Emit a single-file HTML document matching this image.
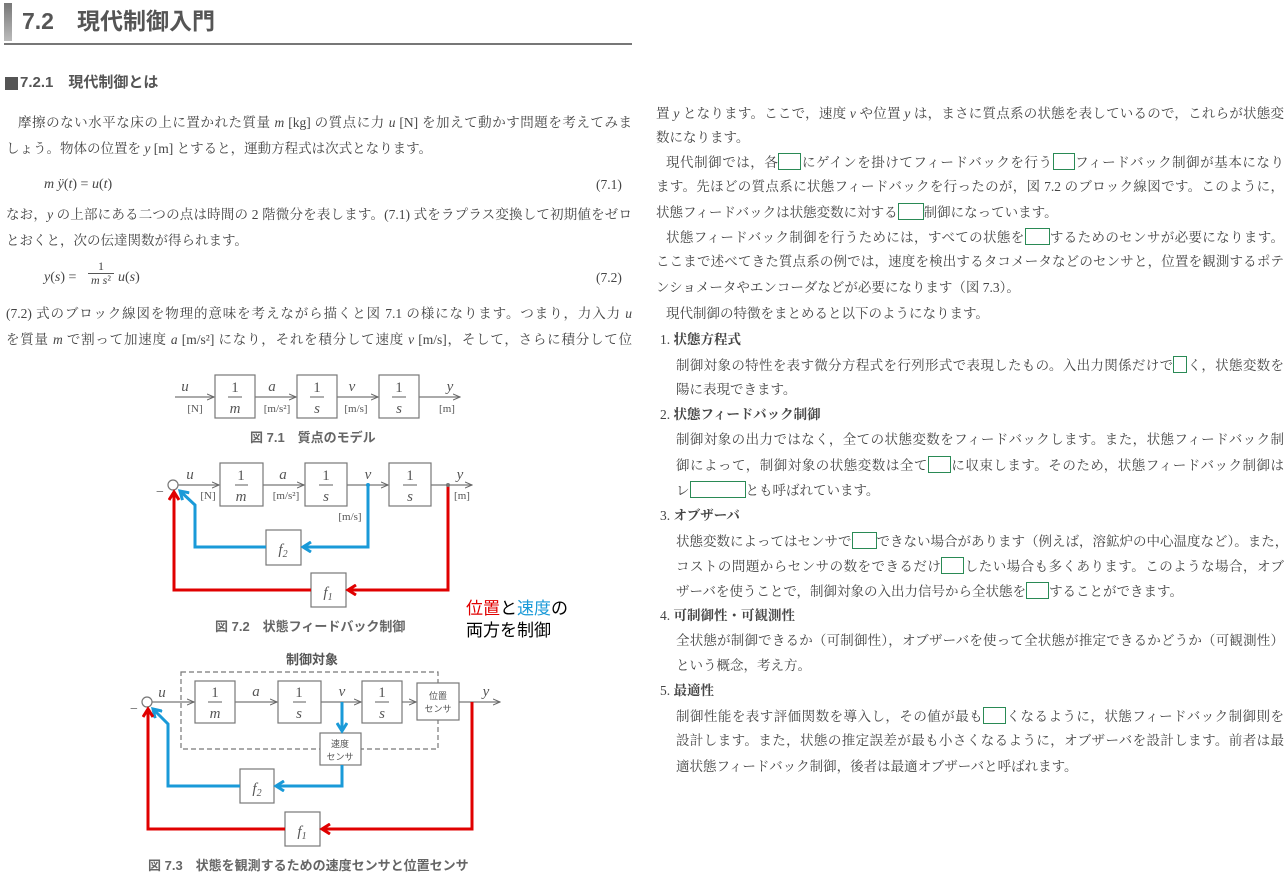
<!DOCTYPE html>
<html><head><meta charset="utf-8">
<style>
body{margin:0;width:1288px;height:881px;background:#fff;position:relative;overflow:hidden;font-family:"Liberation Serif","Noto Serif CJK SC","Noto Sans CJK JP",serif;color:#444}
.t{position:absolute;font-size:13.5px;line-height:18px;white-space:nowrap}
.j{text-align:justify;text-align-last:justify;text-justify:inter-character}
.b{display:inline-block;border:1px solid #2a8a55;height:15px;vertical-align:-3px}
.g{font-family:"Liberation Sans","Noto Sans CJK JP",sans-serif;font-weight:bold}
svg{position:absolute;left:0;top:0}
i{font-family:"Liberation Serif",serif}
</style></head><body>
<div style="position:absolute;left:4px;top:3px;width:8px;height:38px;background:linear-gradient(#777,#bbb)"></div>
<div class="t g" style="left:22px;top:7px;font-size:23px;line-height:28px;color:#555">7.2　現代制御入門</div>
<div style="position:absolute;left:4px;top:43px;width:628px;height:2px;background:#777"></div>
<div style="position:absolute;left:5px;top:77px;width:13px;height:13px;background:#555"></div>
<div class="t g" style="left:20px;top:74px;font-size:15px;color:#555">7.2.1　現代制御とは</div>

<div class="t j" style="left:18px;top:114px;width:614px">摩擦のない水平な床の上に置かれた質量 <i>m</i> [kg] の質点に力 <i>u</i> [N] を加えて動かす問題を考えてみま</div>
<div class="t" style="left:6px;top:140px">しょう。物体の位置を <i>y</i> [m] とすると，運動方程式は次式となります。</div>
<div class="t" style="left:44px;top:176px;font-size:14px"><i>m ÿ</i>(<i>t</i>) = <i>u</i>(<i>t</i>)</div>
<div class="t" style="left:596px;top:176px">(7.1)</div>
<div class="t j" style="left:6px;top:206px;width:626px">なお，<i>y</i> の上部にある二つの点は時間の 2 階微分を表します。(7.1) 式をラプラス変換して初期値をゼロ</div>
<div class="t" style="left:6px;top:232px">とおくと，次の伝達関数が得られます。</div>
<div class="t" style="left:44px;top:269px;font-size:14px"><i>y</i>(<i>s</i>) = </div>
<div class="t" style="left:88px;top:260px;text-align:center;width:26px;font-size:12px;line-height:13px">1<div style="border-top:1px solid #555"></div><i>m s</i>²</div>
<div class="t" style="left:118px;top:269px;font-size:14px"><i>u</i>(<i>s</i>)</div>
<div class="t" style="left:596px;top:269px">(7.2)</div>
<div class="t j" style="left:6px;top:305px;width:626px">(7.2) 式のブロック線図を物理的意味を考えながら描くと図 7.1 の様になります。つまり，力入力 <i>u</i></div>
<div class="t j" style="left:6px;top:331px;width:626px">を質量 <i>m</i> で割って加速度 <i>a</i> [m/s²] になり，それを積分して速度 <i>v</i> [m/s]，そして，さらに積分して位</div>

<div class="t j" style="left:656px;top:105px;width:628px">置 <i>y</i> となります。ここで，速度 <i>v</i> や位置 <i>y</i> は，まさに質点系の状態を表しているので，これらが状態変</div>
<div class="t" style="left:656px;top:129px">数になります。</div>
<div class="t j" style="left:666px;top:153px;width:618px">現代制御では，各<span class="b" style="width:21px"></span>にゲインを掛けてフィードバックを行う<span class="b" style="width:20px"></span>フィードバック制御が基本になり</div>
<div class="t j" style="left:656px;top:178px;width:628px">ます。先ほどの質点系に状態フィードバックを行ったのが，図 7.2 のブロック線図です。このように，</div>
<div class="t" style="left:656px;top:203px">状態フィードバックは状態変数に対する<span class="b" style="width:24px"></span>制御になっています。</div>
<div class="t j" style="left:666px;top:228px;width:618px">状態フィードバック制御を行うためには，すべての状態を<span class="b" style="width:23px"></span>するためのセンサが必要になります。</div>
<div class="t j" style="left:656px;top:253px;width:628px">ここまで述べてきた質点系の例では，速度を検出するタコメータなどのセンサと，位置を観測するポテ</div>
<div class="t" style="left:656px;top:279px">ンショメータやエンコーダなどが必要になります（図 7.3）。</div>
<div class="t" style="left:666px;top:305px">現代制御の特徴をまとめると以下のようになります。</div>
<div class="t" style="left:660px;top:331px">1.  <b>状態方程式</b></div>
<div class="t j" style="left:676px;top:356px;width:608px">制御対象の特性を表す微分方程式を行列形式で表現したもの。入出力関係だけで<span class="b" style="width:12px"></span>く，状態変数を</div>
<div class="t" style="left:676px;top:381px">陽に表現できます。</div>
<div class="t" style="left:660px;top:406px">2.  <b>状態フィードバック制御</b></div>
<div class="t j" style="left:676px;top:431px;width:608px">制御対象の出力ではなく，全ての状態変数をフィードバックします。また，状態フィードバック制</div>
<div class="t j" style="left:676px;top:456px;width:608px">御によって，制御対象の状態変数は全て<span class="b" style="width:21px"></span>に収束します。そのため，状態フィードバック制御は</div>
<div class="t" style="left:676px;top:481px">レ<span class="b" style="width:54px"></span>とも呼ばれています。</div>
<div class="t" style="left:660px;top:507px">3.  <b>オブザーバ</b></div>
<div class="t j" style="left:676px;top:532px;width:608px">状態変数によってはセンサで<span class="b" style="width:23px"></span>できない場合があります（例えば，溶鉱炉の中心温度など）。また，</div>
<div class="t j" style="left:676px;top:557px;width:608px">コストの問題からセンサの数をできるだけ<span class="b" style="width:21px"></span>したい場合も多くあります。このような場合，オブ</div>
<div class="t" style="left:676px;top:582px">ザーバを使うことで，制御対象の入出力信号から全状態を<span class="b" style="width:21px"></span>することができます。</div>
<div class="t" style="left:660px;top:607px">4.  <b>可制御性・可観測性</b></div>
<div class="t j" style="left:676px;top:632px;width:608px">全状態が制御できるか（可制御性），オブザーバを使って全状態が推定できるかどうか（可観測性）</div>
<div class="t" style="left:676px;top:657px">という概念，考え方。</div>
<div class="t" style="left:660px;top:682px">5.  <b>最適性</b></div>
<div class="t j" style="left:676px;top:707px;width:608px">制御性能を表す評価関数を導入し，その値が最も<span class="b" style="width:21px"></span>くなるように，状態フィードバック制御則を</div>
<div class="t j" style="left:676px;top:732px;width:608px">設計します。また，状態の推定誤差が最も小さくなるように，オブザーバを設計します。前者は最</div>
<div class="t" style="left:676px;top:758px">適状態フィードバック制御，後者は最適オブザーバと呼ばれます。</div>

<div class="t g" style="left:250px;top:429px;font-size:13px;color:#666">図 7.1　質点のモデル</div>
<div class="t g" style="left:215px;top:618px;font-size:13px;color:#666">図 7.2　状態フィードバック制御</div>
<div class="t g" style="left:148px;top:857px;font-size:13px;color:#666">図 7.3　状態を観測するための速度センサと位置センサ</div>
<div class="t" style="left:466px;top:598px;font-size:17px;line-height:22px;color:#000;font-family:'Liberation Sans','Noto Sans CJK JP',sans-serif"><span style="color:#e00000">位置</span>と<span style="color:#1a9ad8">速度</span>の<br>両方を制御</div>

<svg width="1288" height="881" font-family="Liberation Serif" fill="#555">
<defs>
<marker id="ah" markerWidth="8" markerHeight="8" refX="7" refY="4" orient="auto" markerUnits="userSpaceOnUse"><path d="M0,1 L7,4 L0,7" fill="none" stroke="#666" stroke-width="1"/></marker>
<marker id="ar" markerWidth="12" markerHeight="12" refX="9" refY="6" orient="auto" markerUnits="userSpaceOnUse"><path d="M1,1 L9,6 L1,11" fill="none" stroke="#e00000" stroke-width="3"/></marker>
<marker id="ab" markerWidth="12" markerHeight="12" refX="9" refY="6" orient="auto" markerUnits="userSpaceOnUse"><path d="M1,1 L9,6 L1,11" fill="none" stroke="#1a9ad8" stroke-width="3"/></marker>
</defs>
<g stroke="#777" fill="none" stroke-width="1.2">
<rect x="215" y="375" width="40" height="43"/><rect x="297" y="375" width="40" height="43"/><rect x="379" y="375" width="40" height="43"/>
<line x1="175" y1="397" x2="214" y2="397" marker-end="url(#ah)"/><line x1="255" y1="397" x2="296" y2="397" marker-end="url(#ah)"/><line x1="337" y1="397" x2="378" y2="397" marker-end="url(#ah)"/><line x1="419" y1="397" x2="460" y2="397" marker-end="url(#ah)"/>
<line x1="228" y1="397" x2="242" y2="397"/><line x1="310" y1="397" x2="324" y2="397"/><line x1="392" y1="397" x2="406" y2="397"/>
<rect x="220" y="463" width="43" height="43"/><rect x="305" y="463" width="42" height="43"/><rect x="389" y="463" width="42" height="43"/>
<rect x="266" y="530" width="35" height="35"/><rect x="311" y="573" width="35" height="34"/>
<circle cx="173" cy="485" r="5"/>
<line x1="178" y1="485" x2="219" y2="485" marker-end="url(#ah)"/><line x1="263" y1="485" x2="304" y2="485" marker-end="url(#ah)"/><line x1="347" y1="485" x2="388" y2="485" marker-end="url(#ah)"/><line x1="431" y1="485" x2="472" y2="485" marker-end="url(#ah)"/>
<line x1="235" y1="485" x2="248" y2="485"/><line x1="319" y1="485" x2="333" y2="485"/><line x1="403" y1="485" x2="417" y2="485"/>
<rect x="181" y="672" width="257" height="77" stroke-dasharray="5,3"/>
<rect x="195" y="681" width="40" height="42"/><rect x="278" y="681" width="43" height="42"/><rect x="362" y="681" width="40" height="42"/><rect x="417" y="683" width="42" height="37" fill="#fff"/>
<rect x="320" y="733" width="41" height="32" fill="#fff"/><rect x="240" y="769" width="34" height="34"/><rect x="285" y="812" width="35" height="34"/>
<circle cx="147" cy="702" r="5"/>
<line x1="152" y1="702" x2="194" y2="702" marker-end="url(#ah)"/><line x1="235" y1="702" x2="277" y2="702" marker-end="url(#ah)"/><line x1="321" y1="702" x2="361" y2="702" marker-end="url(#ah)"/><line x1="402" y1="702" x2="416" y2="702" marker-end="url(#ah)"/><line x1="459" y1="702" x2="500" y2="702" marker-end="url(#ah)"/>
<line x1="208" y1="702" x2="222" y2="702"/><line x1="293" y1="702" x2="306" y2="702"/><line x1="375" y1="702" x2="389" y2="702"/>
</g>
<g font-size="15" text-anchor="middle" fill="#555">
<text x="235" y="392">1</text><text x="235" y="413" font-style="italic">m</text>
<text x="317" y="392">1</text><text x="317" y="413" font-style="italic">s</text>
<text x="399" y="392">1</text><text x="399" y="413" font-style="italic">s</text>
<text x="241" y="480">1</text><text x="241" y="501" font-style="italic">m</text>
<text x="326" y="480">1</text><text x="326" y="501" font-style="italic">s</text>
<text x="410" y="480">1</text><text x="410" y="501" font-style="italic">s</text>
<text x="215" y="697">1</text><text x="215" y="718" font-style="italic">m</text>
<text x="299" y="697">1</text><text x="299" y="718" font-style="italic">s</text>
<text x="382" y="697">1</text><text x="382" y="718" font-style="italic">s</text>
<g font-style="italic">
<text x="185" y="391">u</text><text x="272" y="391">a</text><text x="352" y="391">v</text><text x="450" y="391">y</text>
<text x="190" y="479">u</text><text x="283" y="479">a</text><text x="368" y="479">v</text><text x="460" y="479">y</text>
<text x="162" y="697">u</text><text x="256" y="696">a</text><text x="342" y="696">v</text><text x="486" y="696">y</text>
<text x="283" y="554">f<tspan font-size="10" dy="3">2</tspan></text><text x="328" y="597">f<tspan font-size="10" dy="3">1</tspan></text>
<text x="257" y="793">f<tspan font-size="10" dy="3">2</tspan></text><text x="302" y="836">f<tspan font-size="10" dy="3">1</tspan></text>
</g>
</g>
<g font-size="11" text-anchor="middle" fill="#555">
<text x="195" y="412">[N]</text><text x="277" y="412">[m/s²]</text><text x="356" y="412">[m/s]</text><text x="447" y="412">[m]</text>
<text x="208" y="499">[N]</text><text x="286" y="499">[m/s²]</text><text x="350" y="520">[m/s]</text><text x="462" y="499">[m]</text>
<text x="160" y="496" font-size="14">−</text><text x="134" y="713" font-size="14">−</text>
</g>
<g font-size="9" text-anchor="middle" fill="#555" font-family="Noto Sans CJK JP">
<text x="438" y="699">位置</text><text x="438" y="712">センサ</text>
<text x="340" y="747">速度</text><text x="340" y="760">センサ</text>
<text x="312" y="664" font-size="13" font-weight="bold">制御対象</text>
</g>
<g fill="none" stroke-width="3" stroke-linejoin="miter">
<polyline points="368,485 368,547 303,547" stroke="#1a9ad8" marker-end="url(#ab)"/>
<polyline points="266,547 195,547 195,505 180,491" stroke="#1a9ad8" marker-end="url(#ab)"/>
<polyline points="448,485 448,590 348,590" stroke="#e00000" marker-end="url(#ar)"/>
<polyline points="311,590 174,590 174,492" stroke="#e00000" marker-end="url(#ar)"/>
<polyline points="342,702 342,731" stroke="#1a9ad8" marker-end="url(#ab)"/>
<polyline points="342,765 342,786 276,786" stroke="#1a9ad8" marker-end="url(#ab)"/>
<polyline points="240,786 168,786 168,724 153,709" stroke="#1a9ad8" marker-end="url(#ab)"/>
<polyline points="472,702 472,829 322,829" stroke="#e00000" marker-end="url(#ar)"/>
<polyline points="285,829 148,829 148,709" stroke="#e00000" marker-end="url(#ar)"/>
</g>
<circle cx="368" cy="485" r="2" fill="#1a9ad8"/><circle cx="448" cy="485" r="2" fill="#777"/>
</svg>
</body></html>
